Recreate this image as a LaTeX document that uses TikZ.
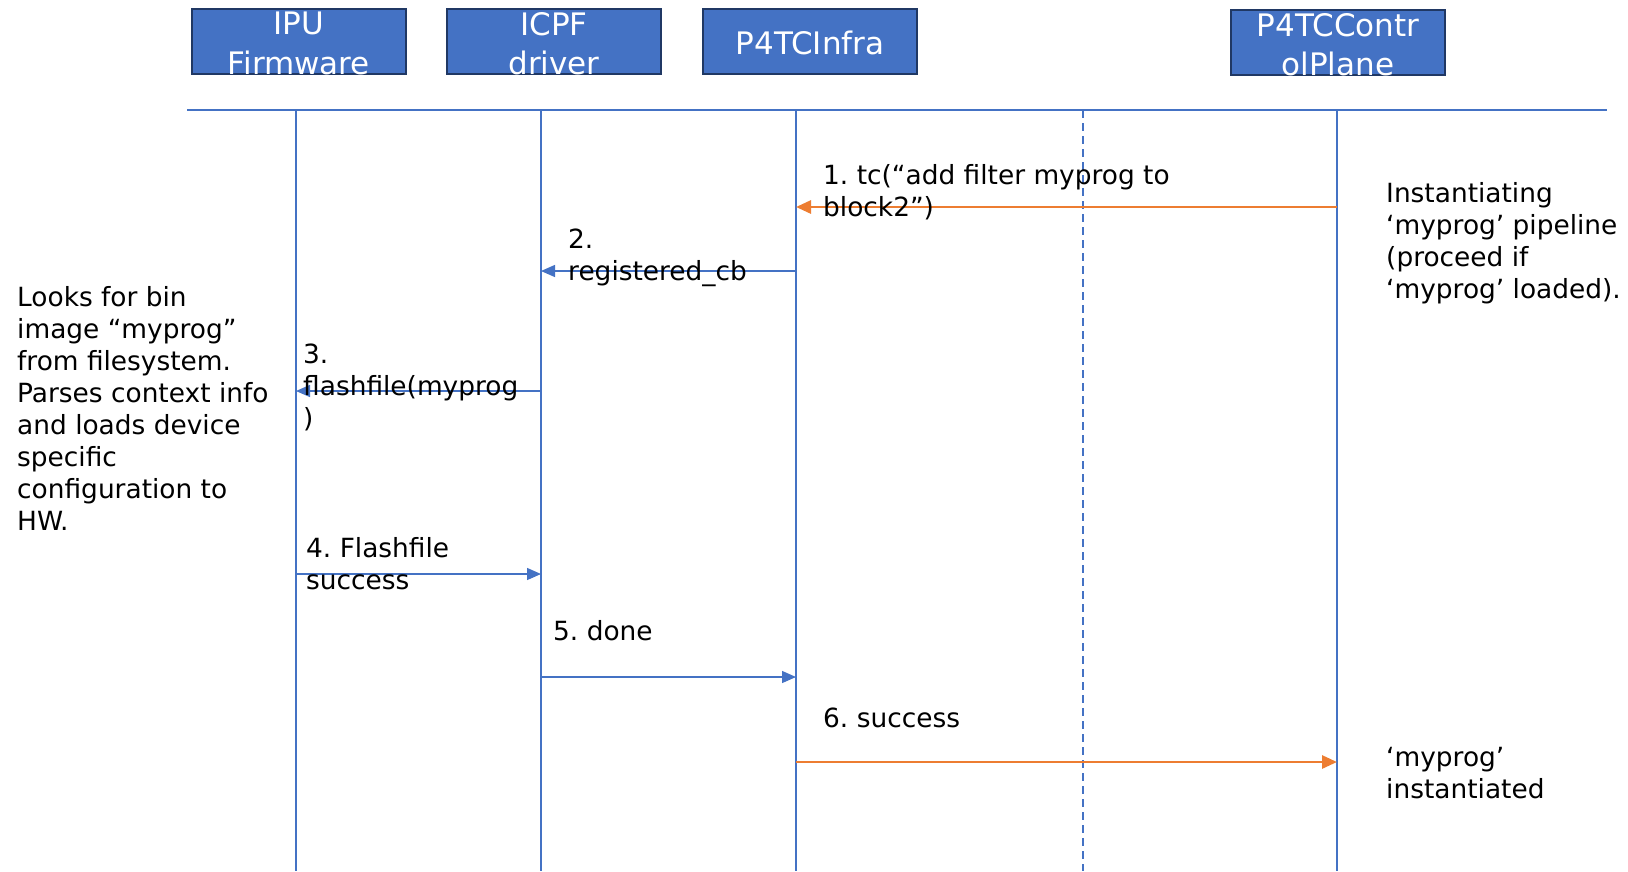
\documentclass[tikz,border=0pt]{standalone}
\usepackage{fontspec}
\setmainfont{DejaVu Sans}
\usepackage{xcolor}
\usepackage{tikz}
\usetikzlibrary{arrows.meta}
\frenchspacing
\definecolor{boxfill}{HTML}{4472C4}
\definecolor{boxline}{HTML}{203864}
\definecolor{lifeblue}{HTML}{4472C4}
\definecolor{orng}{HTML}{ED7D31}
\definecolor{ink}{HTML}{000000}
\tikzset{
  actor/.style={draw=boxline, fill=boxfill, line width=2.6pt, minimum width=214pt, minimum height=65pt, inner sep=0pt},
  actortxt/.style={text=white, align=center, inner sep=0pt, font=\fontsize{31}{39.5}\selectfont},
  life/.style={draw=lifeblue, line width=1.1pt},
  lifed/.style={life, dash pattern=on 8pt off 5pt},
  msg/.style={draw=lifeblue, line width=1.3pt, -{Triangle[length=14pt,width=12pt]}},
  msgo/.style={draw=orng, line width=2.8pt, -{Triangle[length=15pt,width=13pt]}},
  lab/.style={text=ink, align=left, anchor=north west, inner sep=0pt, font=\frenchspacing\fontsize{26.4}{32}\selectfont}
}
\begin{document}
\begin{tikzpicture}[x=1pt, y=-1pt]
  \useasboundingbox[fill=white] (0,0) rectangle (1628,871);

  % actors
  \node[actor] (ipu)   at (299,41.5)  {};
  \node[actor] (icpf)  at (554,41.5)  {};
  \node[actor] (infra) at (810,41.5)  {};
  \node[actor] (cp)    at (1338,42.5) {};
  \node[actortxt] at ([yshift=-2pt]ipu)   {IPU\\Firmware};
  \node[actortxt] at ([yshift=-2pt]icpf)  {ICPF\\driver};
  \node[actortxt] at ([yshift=-1pt]infra) {P4TCInfra};
  \node[actortxt] at ([yshift=-2pt]cp)    {P4TCContr\\olPlane};

  % rule and lifelines
  \coordinate (ruleL) at (187,110);
  \coordinate (ruleR) at (1607,110);
  \draw[life] (ruleL) -- (ruleR);
  \coordinate (ipuL)   at (296,110);
  \coordinate (icpfL)  at (541,110);
  \coordinate (infraL) at (796,110);
  \coordinate (midL)   at (1083,110);
  \coordinate (cpL)    at (1337,110);
  \coordinate (bot)    at (0,871);
  \draw[life]  (ipuL)   -- (ipuL |- bot);
  \draw[life]  (icpfL)  -- (icpfL |- bot);
  \draw[life]  (infraL) -- (infraL |- bot);
  \draw[lifed] (midL)   -- (midL |- bot);
  \draw[life]  (cpL)    -- (cpL |- bot);

  % messages
  \coordinate (m1) at (0,207);
  \coordinate (m2) at (0,271);
  \coordinate (m3) at (0,391);
  \coordinate (m4) at (0,574);
  \coordinate (m5) at (0,677);
  \coordinate (m6) at (0,762);
  \draw[msgo] (cpL |- m1)    -- (infraL |- m1);
  \draw[msg]  (infraL |- m2) -- (icpfL |- m2);
  \draw[msg]  (icpfL |- m3)  -- (ipuL |- m3);
  \draw[msg]  (ipuL |- m4)   -- (icpfL |- m4);
  \draw[msg]  (icpfL |- m5)  -- (infraL |- m5);
  \draw[msgo] (infraL |- m6) -- (cpL |- m6);

  % labels
  \node[lab] (t1) at (823,164) {1. tc(“add filter myprog to\\block2”)};
  \node[lab] (t2) at (568,229) {2.\\registered\_cb};
  \node[lab] (t3) at (303,344) {3.\\flashfile(myprog\\)};
  \node[lab] (t4) at (306,537) {4. Flashfile\\success};
  \node[lab] (t5) at (553,620) {5. done};
  \node[lab] (t6) at (823,708) {6. success};
  \node[lab] (nfw) at (17,286) {Looks for bin\\image “myprog”\\from filesystem.\\Parses context info\\and loads device\\specific\\configuration to\\HW.};
  \node[lab] (ncp1) at (1386,182) {Instantiating\\‘myprog’ pipeline\\(proceed if\\‘myprog’ loaded).};
  \node[lab] (ncp2) at (1386,747) {‘myprog’\\instantiated};
\end{tikzpicture}
\end{document}
